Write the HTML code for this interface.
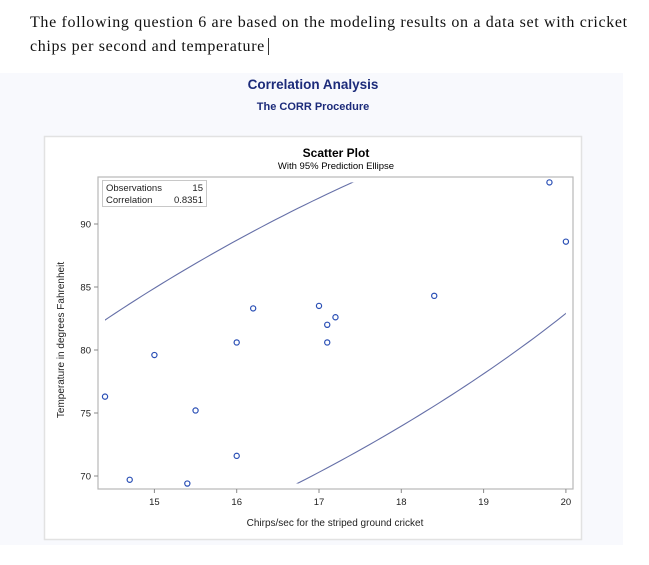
<!DOCTYPE html>
<html><head><meta charset="utf-8"><style>
html,body{margin:0;width:649px;height:565px;overflow:hidden}
body{background:#fff;position:relative;font-family:"Liberation Sans",sans-serif}
.hdr{position:absolute;left:30px;font-family:"Liberation Serif",serif;font-size:16px;letter-spacing:0.65px;color:#111;white-space:nowrap;line-height:20px}
svg{display:block}
</style></head><body>
<div class="hdr" style="top:13px">The following question 6 are based on the modeling results on a data set with cricket</div>
<div class="hdr" style="top:37px">chips per second and temperature<span style="border-left:1px solid #333;margin-left:3px"></span></div>
<svg width="649" height="550" style="position:absolute;left:0;top:0" xmlns="http://www.w3.org/2000/svg">
<rect x="0" y="73" width="623" height="472" fill="#f8f9fd"/>
<text x="313" y="89" text-anchor="middle" font-size="13.5" font-weight="bold" fill="#1c2b7a">Correlation Analysis</text>
<text x="313" y="110" text-anchor="middle" font-size="11" font-weight="bold" fill="#1c2b7a">The CORR Procedure</text>
<rect x="44.5" y="136.5" width="537" height="403" fill="#fff" stroke="#e2e2e2" stroke-width="1.5"/>
<text x="336" y="157" text-anchor="middle" font-size="12" font-weight="bold" fill="#000">Scatter Plot</text>
<text x="336" y="169" text-anchor="middle" font-size="9.5" fill="#000">With 95% Prediction Ellipse</text>
<g id="plot"></g>
<text transform="translate(64,340) rotate(-90)" text-anchor="middle" font-size="10" fill="#222">Temperature in degrees Fahrenheit</text>
<text x="335" y="526" text-anchor="middle" font-size="10" fill="#222">Chirps/sec for the striped ground cricket</text>
</svg>
<script>
const chirps=[20.0,16.0,19.8,18.4,17.1,15.5,14.7,17.1,15.4,16.2,15.0,17.2,16.0,17.0,14.4];
const temps=[88.6,71.6,93.3,84.3,80.6,75.2,69.7,82.0,69.4,83.3,79.6,82.6,80.6,83.5,76.3];
const xTicks=[15,16,17,18,19,20];
const yTicks=[70,75,80,85,90];
const statLabels=["Observations","Correlation"];
const statValues=["15","0.8351"];
const NS="http://www.w3.org/2000/svg";
const L=98,R=573,T=177,B=489;
const X=v=>154.4+(v-15)*82.3;
const Y=v=>476-(v-70)*12.6;
const g=document.getElementById('plot');
function mk(t,a,p){const e=document.createElementNS(NS,t);for(const k in a)e.setAttribute(k,a[k]);(p||g).appendChild(e);return e;}
const xmin=Math.min(...chirps),xmax=Math.max(...chirps),ymin=Math.min(...temps),ymax=Math.max(...temps);
const clip=mk('clipPath',{id:'pc'});mk('rect',{x:X(xmin),y:Y(ymax),width:X(xmax)-X(xmin),height:Y(ymin)-Y(ymax)},clip);
const n=chirps.length;let mx=0,my=0;chirps.forEach((v,i)=>{mx+=v;my+=temps[i]});mx/=n;my/=n;
let sxx=0,syy=0,sxy=0;chirps.forEach((v,i)=>{sxx+=(v-mx)**2;syy+=(temps[i]-my)**2;sxy+=(v-mx)*(temps[i]-my)});
sxx/=n-1;syy/=n-1;sxy/=n-1;
const c2=2*(n+1)*(n-1)/(n*(n-2))*3.806;
const a11=Math.sqrt(sxx),a21=sxy/a11,a22=Math.sqrt(syy-a21*a21);
let d="";for(let k=0;k<=360;k++){const t=k*Math.PI/180,u=Math.sqrt(c2)*Math.cos(t),w=Math.sqrt(c2)*Math.sin(t);
const px=mx+a11*u,py=my+a21*u+a22*w;d+=(k?"L":"M")+X(px).toFixed(2)+","+Y(py).toFixed(2);}
const el=mk('path',{d:d,fill:'none',stroke:'#6670a8','stroke-width':1.1,'clip-path':'url(#pc)'});


const fr=mk('rect',{x:L,y:T,width:R-L,height:B-T,fill:'none',stroke:'#b8b8b8','stroke-width':1.2});


xTicks.forEach(v=>{mk('line',{x1:X(v),x2:X(v),y1:B,y2:B+4,stroke:'#888'});
const t=mk('text',{x:X(v),y:B+16,'text-anchor':'middle','font-size':9.5,fill:'#222'});t.textContent=v;

});
yTicks.forEach(v=>{mk('line',{x1:L-4,x2:L,y1:Y(v),y2:Y(v),stroke:'#888'});
const t=mk('text',{x:L-7,y:Y(v)+3.5,'text-anchor':'end','font-size':9.5,fill:'#222'});t.textContent=v;

});
chirps.forEach((v,i)=>{const c=mk('circle',{cx:X(v),cy:Y(temps[i]),r:2.6,fill:'none',stroke:'#2a4fb5','stroke-width':1.2});

});
const lg=mk('rect',{x:102.5,y:180.5,width:104,height:26,fill:'#fff',stroke:'#c8c8c8'});


statLabels.forEach((s,i)=>{const a=mk('text',{x:106,y:191+i*12,'font-size':9.5,fill:'#222'});a.textContent=s;


const b=mk('text',{x:203,y:191+i*12,'font-size':9.5,fill:'#222','text-anchor':'end'});b.textContent=statValues[i];

});
</script>
</body></html>
